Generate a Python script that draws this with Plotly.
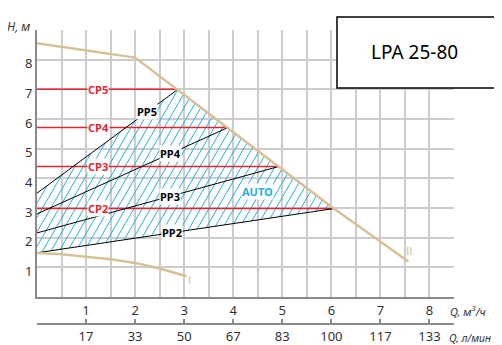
import numpy as np
import plotly.graph_objects as go

# ---------------- data ----------------
q_ticks = [1, 2, 3, 4, 5, 6, 7, 8]
q_tick_labels = ["1", "2", "3", "4", "5", "6", "7", "8"]
h_ticks = [1, 2, 3, 4, 5, 6, 7, 8]
h_tick_labels = ["1", "2", "3", "4", "5", "6", "7", "8"]
lmin_tick_labels = ["17", "33", "50", "67", "83", "100", "117", "133"]

# max curve (II)
max_q = [0.0, 2.0, 6.05, 7.57]
max_h = [8.55, 8.07, 2.98, 1.2]
# min curve (I)
min_q = [0.0, 0.5, 1.0, 1.5, 2.0, 2.5, 3.05]
min_h = [1.48, 1.44, 1.36, 1.27, 1.15, 0.96, 0.7]

# constant pressure lines CP2..CP5
cp_names = ["CP2", "CP3", "CP4", "CP5"]
cp_levels = [2.98, 4.40, 5.71, 7.0]
cp_end_q = [6.05, 4.93, 3.89, 2.87]
cp_label_q = 1.25

# proportional pressure lines PP2..PP5
pp_names = ["PP2", "PP3", "PP4", "PP5"]
pp_start_h = [1.49, 2.16, 2.8, 3.5]
pp_label_q = [2.76, 2.72, 2.72, 2.25]

TAN = "#d6c197"
RED = "#e3262f"
CYAN = "#22b0e6"
FONT = "Noto Sans"

fig = go.Figure()

# ---------------- hatch (AUTO zone) ----------------
poly = [(0.0, pp_start_h[0]), (cp_end_q[0], cp_levels[0]),
        (cp_end_q[-1], cp_levels[-1]), (0.0, pp_start_h[-1])]
slope = 2.85    # data-space slope giving ~60 deg on screen
step = 0.17
hx, hy = [], []
for c in np.arange(-4.0, 8.0, step):
    pts = []
    n = len(poly)
    for i in range(n):
        (x1, y1), (x2, y2) = poly[i], poly[(i + 1) % n]
        a = (x2 - x1) - (y2 - y1) / slope
        b = c + y1 / slope - x1
        if abs(a) < 1e-12:
            continue
        t = b / a
        if 0 <= t <= 1:
            pts.append((x1 + t * (x2 - x1), y1 + t * (y2 - y1)))
    if len(pts) >= 2:
        pts.sort(key=lambda p: p[1])
        hx += [pts[0][0], pts[-1][0], None]
        hy += [pts[0][1], pts[-1][1], None]
fig.add_trace(go.Scatter(x=hx, y=hy, mode="lines",
                         line=dict(color=CYAN, width=1), hoverinfo="skip"))

# ---------------- CP lines ----------------
for name, lvl, qe in zip(cp_names, cp_levels, cp_end_q):
    fig.add_trace(go.Scatter(x=[0, qe], y=[lvl, lvl], mode="lines",
                             line=dict(color=RED, width=1.5)))
    fig.add_annotation(x=cp_label_q, y=lvl, text="<b>%s</b>" % name, showarrow=False,
                       font=dict(family=FONT, size=11, color=RED),
                       bgcolor="white", borderpad=0)

# ---------------- PP lines ----------------
for name, h0, qe, he, ql in zip(pp_names, pp_start_h, cp_end_q, cp_levels, pp_label_q):
    fig.add_trace(go.Scatter(x=[0, qe], y=[h0, he], mode="lines",
                             line=dict(color="black", width=1)))
    hl = h0 + (he - h0) * ql / qe
    fig.add_annotation(x=ql, y=hl, text="<b>%s</b>" % name, showarrow=False,
                       font=dict(family=FONT, size=11, color="black"),
                       bgcolor="white", borderpad=0)

# ---------------- max / min curves ----------------
fig.add_trace(go.Scatter(x=max_q, y=max_h, mode="lines", line=dict(color=TAN, width=2.5)))
fig.add_trace(go.Scatter(x=min_q, y=min_h, mode="lines", line=dict(color=TAN, width=2.5)))

fig.add_annotation(x=3.1, y=0.55, text="I", showarrow=False,
                   font=dict(family="DejaVu Sans", size=11, color=TAN))
fig.add_annotation(x=7.6, y=1.52, text="II", showarrow=False,
                   font=dict(family="DejaVu Sans", size=11, color=TAN))
fig.add_annotation(x=4.5, y=3.55, text="<b>AUTO</b>", showarrow=False,
                   font=dict(family=FONT, size=11, color=CYAN), bgcolor="white", borderpad=0)

# secondary axis carrier trace (invisible)
fig.add_trace(go.Scatter(x=[0, 141.67], y=[None, None], xaxis="x2", yaxis="y",
                         mode="lines", showlegend=False, hoverinfo="skip"))

# ---------------- title box ----------------
fig.add_shape(type="rect", xref="paper", yref="paper", x0=0.7194, x1=1.1007, y0=0.803, y1=1.044,
              fillcolor="white", line=dict(color="black", width=1.5), layer="above")
fig.add_annotation(xref="paper", yref="paper", x=0.905, y=0.925, xanchor="center", yanchor="middle",
                   text="LPA 25-80", showarrow=False,
                   font=dict(family=FONT, size=19, color="black"))

# axis titles
fig.add_annotation(xref="paper", yref="paper", x=-0.012, y=1.012, xanchor="right", yanchor="middle",
                   text="<i>H, м</i>", showarrow=False, font=dict(family=FONT, size=12, color="#333"))
fig.add_annotation(xref="paper", yref="paper", x=0.995, y=0.044, xanchor="left", yanchor="middle",
                   xshift=-3, borderpad=0,
                   text="<i>Q, м<sup>3</sup>/ч</i>", showarrow=False, font=dict(family=FONT, size=11, color="#333"))
fig.add_annotation(xref="paper", yref="paper", x=0.995, y=-0.048, xanchor="left", yanchor="middle",
                   xshift=-4, borderpad=0,
                   text="<i>Q, л/мин</i>", showarrow=False, font=dict(family=FONT, size=10.5, color="#333"))

lmin_vals = [v * 1000 / 60 for v in q_ticks]

# the page body has an 8px margin, so the figure is 8px smaller than the window
fig.update_layout(
    width=494, height=337,
    margin=dict(l=29, r=48, t=22, b=21, autoexpand=False),
    paper_bgcolor="white", plot_bgcolor="white",
    showlegend=False,
    font=dict(family=FONT, size=13, color="#333"),
    xaxis=dict(range=[0, 8.5], tickvals=q_ticks, ticktext=q_tick_labels,
               showgrid=True, gridcolor="#cccccc", gridwidth=1.5,
               minor=dict(dtick=0.5, tick0=0, showgrid=True, gridcolor="#cccccc", gridwidth=1.5),
               showline=True, linecolor="#8a8a8a", linewidth=2, ticks="",
               zeroline=False, anchor="y", fixedrange=True, automargin=False),
    yaxis=dict(range=[0, 9], domain=[0.0918, 1], tickvals=h_ticks, ticktext=h_tick_labels,
               showgrid=True, gridcolor="#cccccc", gridwidth=1.5,
               minor=dict(dtick=1, tick0=0, showgrid=True, gridcolor="#cccccc", gridwidth=1.5),
               showline=True, linecolor="#8a8a8a", linewidth=2, ticks="",
               zeroline=False, ticklabelshift=4, fixedrange=True, automargin=False),
    xaxis2=dict(range=[0, 8.5 * 1000 / 60], overlaying="x", anchor="free", position=0, side="bottom",
                tickvals=lmin_vals, ticktext=lmin_tick_labels,
                showgrid=False, showline=True, linecolor="#8a8a8a", linewidth=2,
                ticks="inside", ticklen=4, tickcolor="#8a8a8a", tickwidth=2,
                minor=dict(dtick=1000 / 60, tick0=0, ticks="inside", ticklen=4,
                           tickcolor="#8a8a8a", tickwidth=2, showgrid=False),
                zeroline=False, fixedrange=True, automargin=False),
)

fig.write_html("out.html")
